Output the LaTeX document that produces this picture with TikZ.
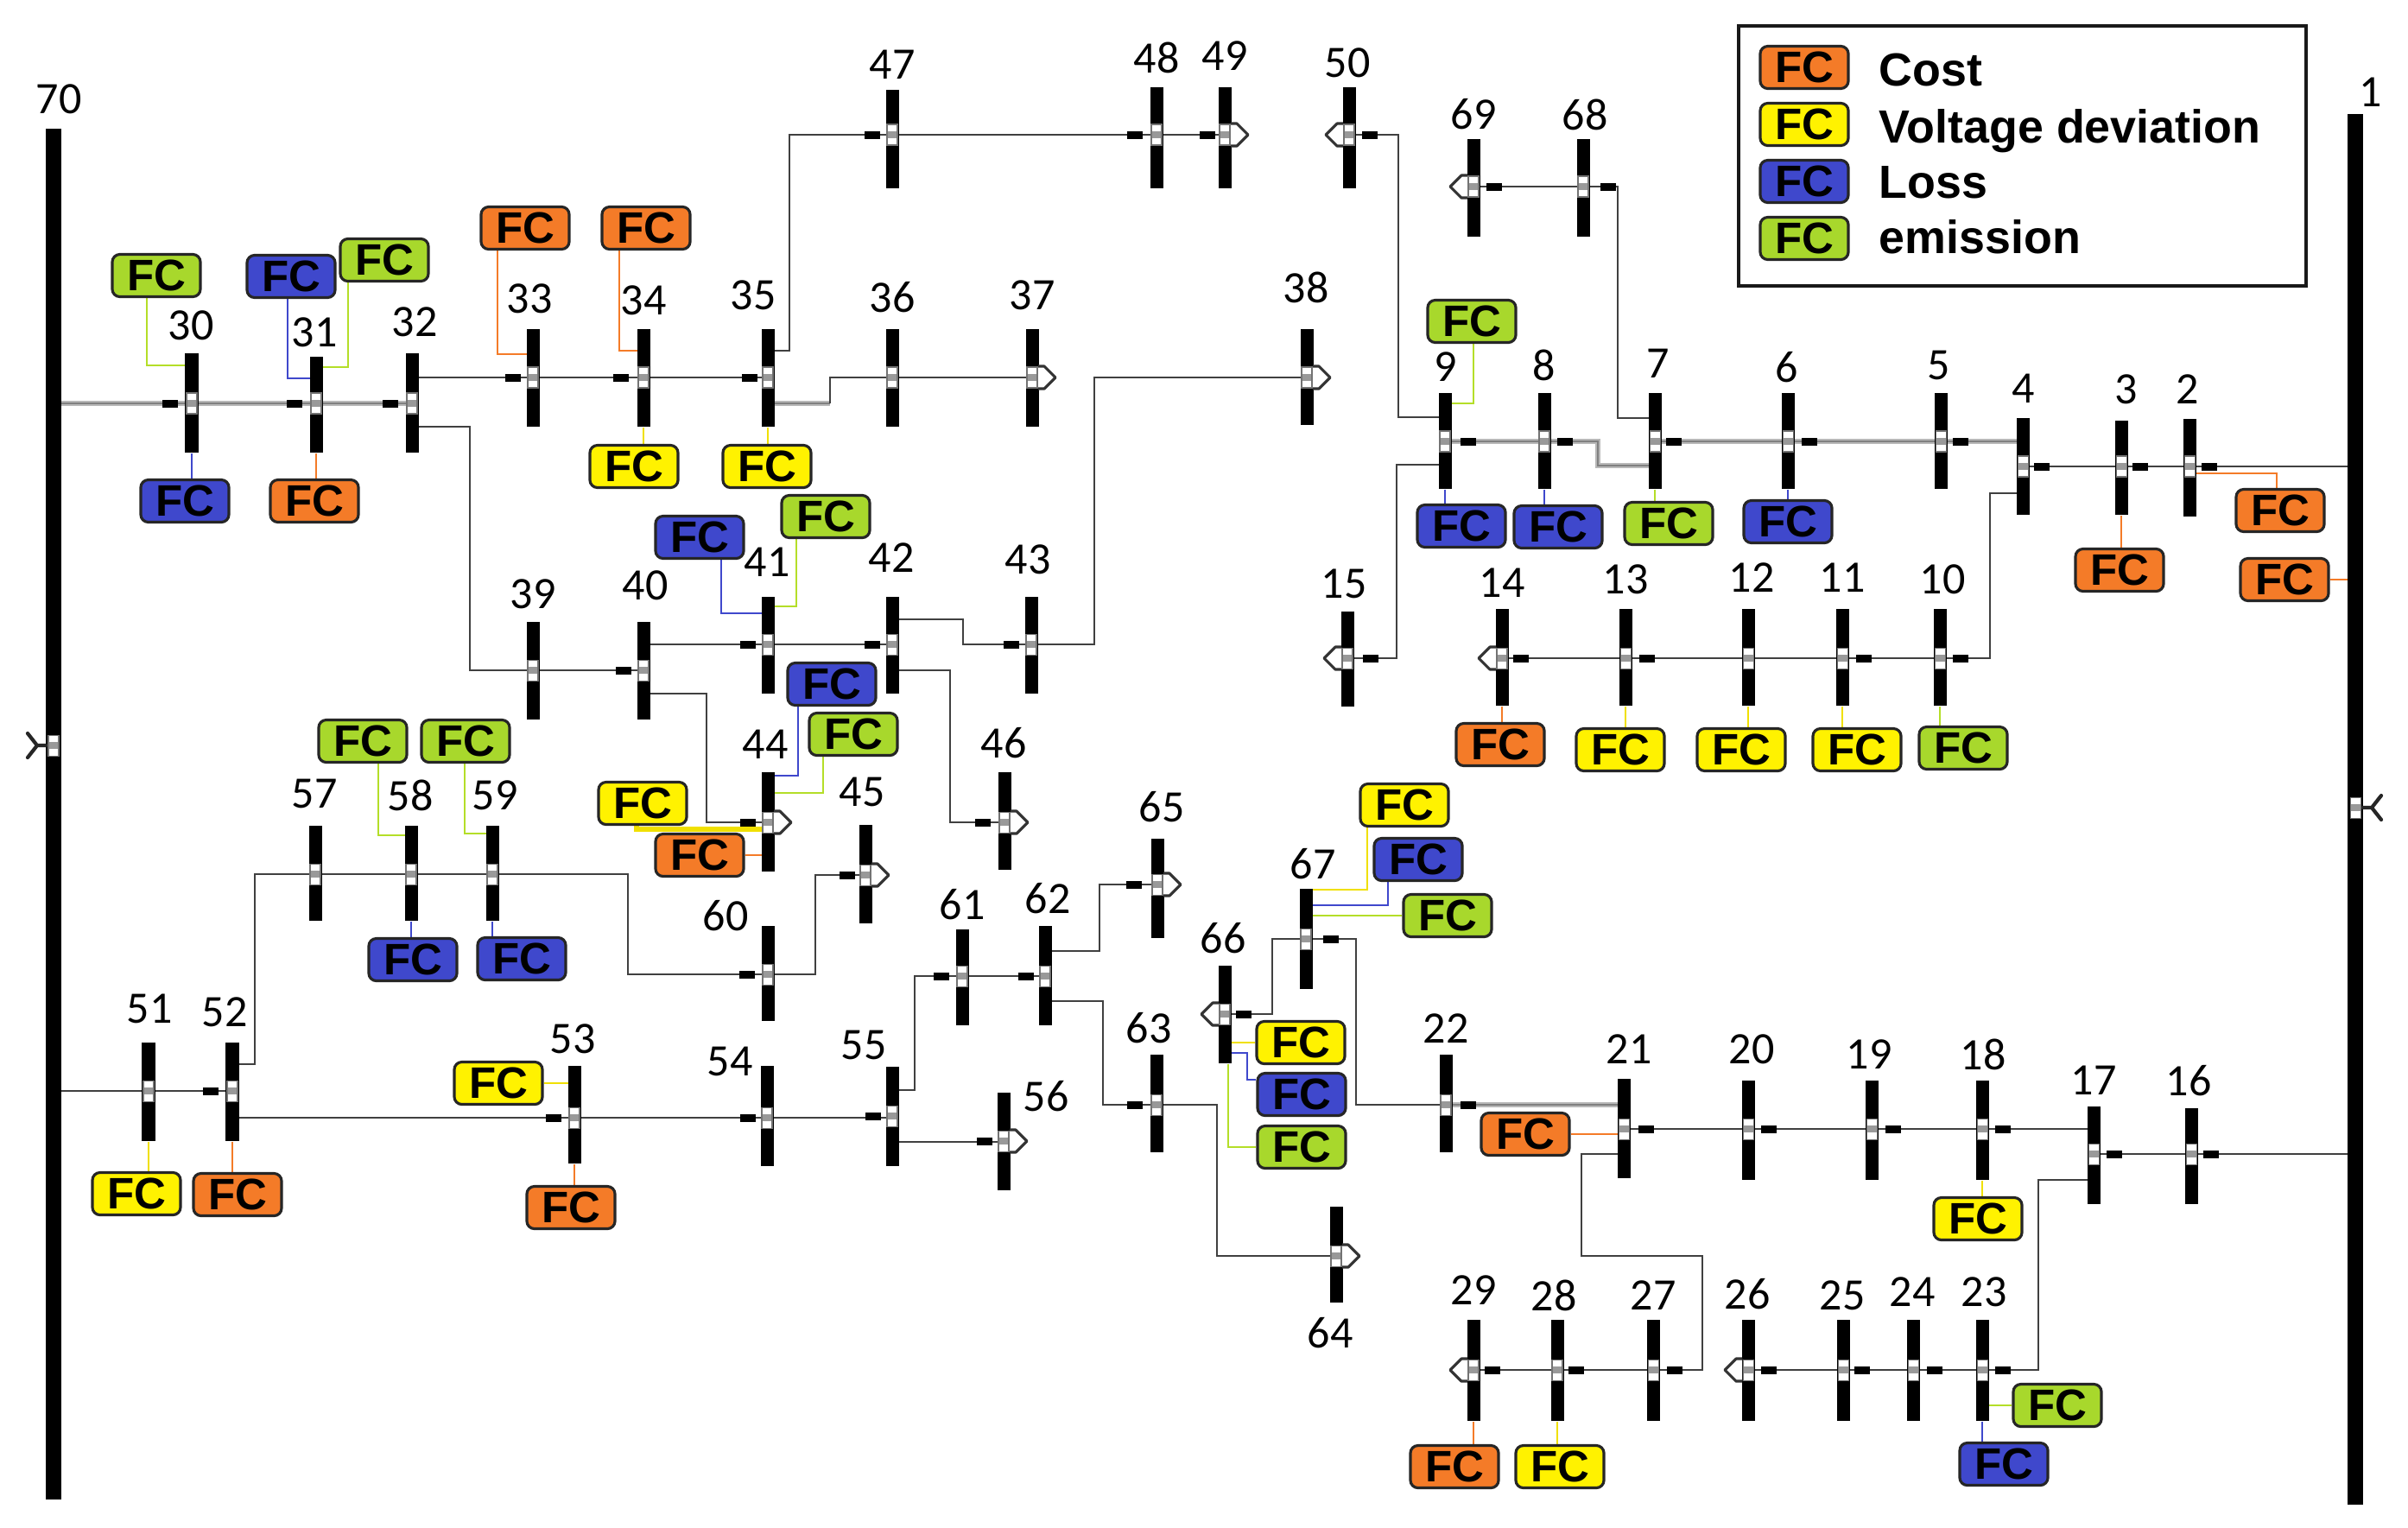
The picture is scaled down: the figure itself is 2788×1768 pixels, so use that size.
\documentclass[tikz,border=0pt]{standalone}
\usepackage{fontspec}
\setmainfont{Carlito}
\newfontfamily\fcfont{Liberation Sans}
\usetikzlibrary{calc}
\pgfdeclarelayer{bg}
\pgfsetlayers{bg,main}
\definecolor{fcO}{HTML}{F47B28}
\definecolor{fcY}{HTML}{FFF200}
\definecolor{fcB}{HTML}{3F48CC}
\definecolor{fcG}{HTML}{A8D82C}
\definecolor{lnG}{HTML}{B4DE28}
\definecolor{lnY}{HTML}{F0E000}
\newcommand{\mkbus}[4]{\node[bus,minimum height={(#4-#3)*0.01cm}] (b#1) at (#2,{(#3+#4)/2}) {};}
\newcommand{\mklab}[3]{\node[lbl] (l#1) at (#2,#3) {#1};}
\tikzset{
 bus/.style={rectangle,fill=black,draw=none,inner sep=0pt,minimum width=0.15cm},
 lbl/.style={inner sep=0pt,font=\fontsize{14.8}{16}\selectfont},
 fc/.style={rectangle,rounded corners=2.5pt,draw=black!85,line width=0.9pt,minimum width=1.02cm,minimum height=0.49cm,inner sep=0pt,font=\fcfont\bfseries\fontsize{14.5}{15}\selectfont},
 fO/.style={fc,fill=fcO}, fY/.style={fc,fill=fcY}, fB/.style={fc,fill=fcB}, fG/.style={fc,fill=fcG},
 legt/.style={inner sep=0pt,anchor=west,text height=11pt,text depth=0pt,font=\fcfont\bfseries\fontsize{15.3}{16}\selectfont},
 wire/.style={draw=black!75,line width=0.8pt},
 feeder/.style={draw=black!50,line width=0.6pt,preaction={draw=black!28,line width=1.9pt}},
 cO/.style={draw=fcO,line width=0.7pt},
 cY/.style={draw=lnY,line width=0.7pt},
 cB/.style={draw=fcB,line width=0.7pt},
 cG/.style={draw=lnG,line width=0.7pt},
 swt/.pic={\fill[white] (-6,-12) rectangle (6,12); \fill[black!40] (-6,-4) rectangle (6,4); \draw[black!55,line width=0.3pt] (-6,-12) rectangle (6,12);},
 brkr/.pic={\fill[black] (-9,-4.5) rectangle (9,4.5);},
 ldR/.pic={\draw[black!80,line width=0.9pt,line join=round,fill=white] (7,-13) -- (14,-13) -- (27,0) -- (14,13) -- (7,13);
   \fill[white] (-6,-12) rectangle (6,12); \fill[black!40] (-6,-4) rectangle (6,4); \draw[black!55,line width=0.3pt] (-6,-12) rectangle (6,12);},
 ldL/.pic={\draw[black!80,line width=0.9pt,line join=round,fill=white] (-7,-13) -- (-14,-13) -- (-27,0) -- (-14,13) -- (-7,13);
   \fill[white] (-6,-12) rectangle (6,12); \fill[black!40] (-6,-4) rectangle (6,4); \draw[black!55,line width=0.3pt] (-6,-12) rectangle (6,12);},
 forkL/.pic={\draw[black!85,line width=1.2pt,line cap=round,line join=round] (-9,0) -- (-19,0) -- (-30,-14) (-19,0) -- (-30,14);},
 forkR/.pic={\draw[black!85,line width=1.2pt,line cap=round,line join=round] (9,0) -- (19,0) -- (30,-14) (19,0) -- (30,14);}
}
\begin{document}
\begin{tikzpicture}[x=0.01cm,y=-0.01cm]
\begin{pgfonlayer}{bg}
\fill[white] (0,0) rectangle (2788,1768);
\end{pgfonlayer}
\useasboundingbox (0,0) rectangle (2788,1768);
% main buses
\node[bus,minimum width=0.18cm,minimum height=15.86cm] (b70) at (62,942) {};
\node[bus,minimum width=0.18cm,minimum height=16.09cm] (b1) at (2727,936.5) {};
% buses
\mkbus{30}{222}{409}{524}
\mkbus{31}{366}{413}{524}
\mkbus{32}{477}{409}{524}
\mkbus{33}{617}{381}{494}
\mkbus{34}{745}{381}{494}
\mkbus{35}{889}{381}{494}
\mkbus{36}{1033}{381}{494}
\mkbus{37}{1195}{381}{494}
\mkbus{38}{1513}{381}{492}
\mkbus{47}{1033}{104}{218}
\mkbus{48}{1339}{101}{218}
\mkbus{49}{1418}{101}{218}
\mkbus{50}{1562}{101}{218}
\mkbus{69}{1706}{161}{274}
\mkbus{68}{1833}{161}{274}
\mkbus{9}{1673}{455}{566}
\mkbus{8}{1788}{455}{566}
\mkbus{7}{1916}{455}{566}
\mkbus{6}{2070}{455}{566}
\mkbus{5}{2247}{455}{566}
\mkbus{4}{2342}{484}{596}
\mkbus{3}{2456}{487}{596}
\mkbus{2}{2535}{485}{598}
\mkbus{15}{1560}{708}{818}
\mkbus{14}{1739}{705}{817}
\mkbus{13}{1882}{705}{817}
\mkbus{12}{2024}{705}{817}
\mkbus{11}{2133}{705}{817}
\mkbus{10}{2246}{705}{817}
\mkbus{39}{617}{720}{833}
\mkbus{40}{745}{720}{833}
\mkbus{41}{889}{691}{803}
\mkbus{42}{1033}{691}{803}
\mkbus{43}{1194}{691}{803}
\mkbus{44}{889}{894}{1009}
\mkbus{45}{1002}{955}{1069}
\mkbus{46}{1163}{894}{1007}
\mkbus{57}{365}{956}{1066}
\mkbus{58}{476}{956}{1066}
\mkbus{59}{570}{956}{1066}
\mkbus{60}{889}{1072}{1182}
\mkbus{51}{172}{1207}{1321}
\mkbus{52}{269}{1207}{1321}
\mkbus{53}{665}{1234}{1347}
\mkbus{54}{888}{1234}{1350}
\mkbus{55}{1033}{1235}{1350}
\mkbus{56}{1162}{1265}{1378}
\mkbus{61}{1114}{1076}{1187}
\mkbus{62}{1210}{1072}{1187}
\mkbus{65}{1340}{971}{1086}
\mkbus{63}{1339}{1221}{1334}
\mkbus{64}{1547}{1397}{1508}
\mkbus{66}{1418}{1118}{1231}
\mkbus{67}{1512}{1029}{1145}
\mkbus{22}{1674}{1221}{1334}
\mkbus{21}{1880}{1249}{1364}
\mkbus{20}{2024}{1251}{1366}
\mkbus{19}{2167}{1251}{1366}
\mkbus{18}{2295}{1251}{1366}
\mkbus{17}{2424}{1281}{1394}
\mkbus{16}{2537}{1283}{1394}
\mkbus{29}{1706}{1528}{1645}
\mkbus{28}{1803}{1528}{1645}
\mkbus{27}{1914}{1528}{1645}
\mkbus{26}{2024}{1528}{1645}
\mkbus{25}{2134}{1528}{1645}
\mkbus{24}{2215}{1528}{1645}
\mkbus{23}{2295}{1528}{1645}
% labels
\mklab{70}{68}{115}
\mklab{1}{2745}{107}
\mklab{30}{221}{377}
\mklab{31}{364}{385}
\mklab{32}{480}{373}
\mklab{33}{613}{346}
\mklab{34}{745}{348}
\mklab{35}{872}{342}
\mklab{36}{1033}{344}
\mklab{37}{1195}{342}
\mklab{38}{1512}{333}
\mklab{47}{1033}{75}
\mklab{48}{1339}{67}
\mklab{49}{1418}{65}
\mklab{50}{1560}{73}
\mklab{69}{1706}{132}
\mklab{68}{1835}{133}
\mklab{9}{1674}{425}
\mklab{8}{1788}{423}
\mklab{7}{1920}{421}
\mklab{6}{2069}{425}
\mklab{5}{2245}{423}
\mklab{4}{2343}{450}
\mklab{3}{2462}{451}
\mklab{2}{2533}{451}
\mklab{15}{1556}{676}
\mklab{14}{1739}{675}
\mklab{13}{1882}{671}
\mklab{12}{2028}{669}
\mklab{11}{2133}{669}
\mklab{10}{2249}{671}
\mklab{39}{617}{688}
\mklab{40}{747}{678}
\mklab{41}{888}{651}
\mklab{42}{1032}{646}
\mklab{43}{1190}{648}
\mklab{44}{886}{862}
\mklab{45}{998}{917}
\mklab{46}{1162}{860}
\mklab{57}{364}{919}
\mklab{58}{475}{921}
\mklab{59}{573}{921}
\mklab{60}{840}{1060}
\mklab{51}{173}{1168}
\mklab{52}{260}{1172}
\mklab{53}{663}{1203}
\mklab{54}{845}{1229}
\mklab{55}{1000}{1210}
\mklab{56}{1211}{1269}
\mklab{61}{1114}{1047}
\mklab{62}{1213}{1040}
\mklab{65}{1345}{934}
\mklab{63}{1330}{1190}
\mklab{64}{1540}{1543}
\mklab{66}{1416}{1086}
\mklab{67}{1520}{1000}
\mklab{22}{1674}{1191}
\mklab{21}{1886}{1215}
\mklab{20}{2028}{1215}
\mklab{19}{2164}{1221}
\mklab{18}{2296}{1221}
\mklab{17}{2424}{1251}
\mklab{16}{2534}{1251}
\mklab{29}{1706}{1494}
\mklab{28}{1799}{1500}
\mklab{27}{1914}{1500}
\mklab{26}{2023}{1498}
\mklab{25}{2133}{1500}
\mklab{24}{2214}{1496}
\mklab{23}{2297}{1496}
% FC boxes
\node[fG] (f30g) at (181,319) {FC};
\node[fB] (f30b) at (214,580) {FC};
\node[fB] (f31b) at (337,320) {FC};
\node[fG] (f31g) at (445,301) {FC};
\node[fO] (f31o) at (364,580) {FC};
\node[fO] (f33o) at (608,264) {FC};
\node[fO] (f34o) at (748,264) {FC};
\node[fY] (f34y) at (734,540) {FC};
\node[fY] (f35y) at (888,540) {FC};
\node[fG] (f9g) at (1704,372) {FC};
\node[fB] (f9b) at (1692,609) {FC};
\node[fB] (f8b) at (1804,610) {FC};
\node[fG] (f7g) at (1932,606) {FC};
\node[fB] (f6b) at (2070,604) {FC};
\node[fO] (f2o) at (2640,591) {FC};
\node[fO] (f1o) at (2645,671) {FC};
\node[fO] (f3o) at (2454,660) {FC};
\node[fO] (f14o) at (1737,862) {FC};
\node[fY] (f13y) at (1876,868) {FC};
\node[fY] (f12y) at (2016,868) {FC};
\node[fY] (f11y) at (2150,868) {FC};
\node[fG] (f10g) at (2273,866) {FC};
\node[fB] (f41b) at (810,622) {FC};
\node[fG] (f41g) at (956,598) {FC};
\node[fB] (f44b) at (963,792) {FC};
\node[fG] (f44g) at (988,850) {FC};
\node[fY] (f44y) at (744,930) {FC};
\node[fO] (f44o) at (810,990) {FC};
\node[fG] (f58g) at (420,858) {FC};
\node[fG] (f59g) at (539,858) {FC};
\node[fB] (f58b) at (478,1111) {FC};
\node[fB] (f59b) at (604,1110) {FC};
\node[fY] (f53y) at (577,1254) {FC};
\node[fO] (f53o) at (661,1398) {FC};
\node[fY] (f51y) at (158,1382) {FC};
\node[fO] (f52o) at (275,1383) {FC};
\node[fY] (f67y) at (1626,932) {FC};
\node[fB] (f67b) at (1642,995) {FC};
\node[fG] (f67g) at (1676,1060) {FC};
\node[fY] (f66y) at (1506,1207) {FC};
\node[fB] (f66b) at (1507,1267) {FC};
\node[fG] (f66g) at (1507,1328) {FC};
\node[fO] (f21o) at (1766,1313) {FC};
\node[fY] (f18y) at (2290,1411) {FC};
\node[fO] (f29o) at (1684,1698) {FC};
\node[fY] (f28y) at (1806,1698) {FC};
\node[fG] (f23g) at (2382,1627) {FC};
\node[fB] (f23b) at (2320,1695) {FC};
% legend
\node[draw=black!90,line width=1.1pt,minimum width=6.57cm,minimum height=3.01cm,inner sep=0pt] (leg) at (2341.5,180.5) {};
\node[fO] (lg1) at (2089,78) {FC};
\node[fY] (lg2) at (2089,144) {FC};
\node[fB] (lg3) at (2089,210) {FC};
\node[fG] (lg4) at (2089,276) {FC};
\node[legt] (lt1) at (2175,80) {Cost};
\node[legt] (lt2) at (2175,146) {Voltage deviation};
\node[legt] (lt3) at (2175,210) {Loss};
\node[legt] (lt4) at (2175,274) {emission};
% lines
\begin{pgfonlayer}{bg}
\draw[feeder] (b70 |- 0,467) -- (b32 |- 0,467);
\coordinate (j35) at (961,467);
\draw[feeder] (b35 |- 0,467) -- (j35);
\draw[wire] (j35) |- (b37 |- 0,437);
\draw[feeder] (b9 |- 0,511) -- (1850,511) -- (1850,539) -- (b7 |- 0,539);
\draw[feeder] (b7 |- 0,511) -- (b4 |- 0,511);
\draw[feeder] (b22 |- 0,1279) -- (b21 |- 0,1279);
\draw[wire] (b32 |- 0,437) -- (b35 |- 0,437);
\draw[wire] (b32 |- 0,494) -| (544,776) -- (b40 |- 0,776);
\draw[wire] (b35 |- 0,406) -| (914,156) -- (b49 |- 0,156);
\draw[wire] (b42 |- 0,717) -| (1115,746) -- (1267,746) |- (b38 |- 0,437);
\draw[wire] (b40 |- 0,746) -- (b42 |- 0,746);
\draw[wire] (b42 |- 0,776) -| (1100,952) -- (b46 |- 0,952);
\draw[wire] (b40 |- 0,803) -| (818,952) -- (b44 |- 0,952);
\draw[wire] (b50 |- 0,156) -| (1619,483) -- (b9 |- 0,483);
\draw[wire] (b9 |- 0,538) -| (1617,762) -- (b15 |- 0,762);
\draw[wire] (b69 |- 0,216) -- (1873,216) |- (b7 |- 0,484);
\draw[wire] (b4 |- 0,540) -- (b1 |- 0,540);
\draw[wire] (b4 |- 0,571) -| (2304,762) -- (b14 |- 0,762);
\draw[wire] (b70 |- 0,1263) -- (b52 |- 0,1263);
\draw[wire] (b52 |- 0,1232) -| (295,1012) -- (727,1012) |- (b60 |- 0,1128) -| (944,1013) -- (b45 |- 0,1013);
\draw[wire] (b52 |- 0,1294) -- (b55 |- 0,1294);
\draw[wire] (b55 |- 0,1262) -| (1059,1130) -- (b62 |- 0,1130);
\draw[wire] (b55 |- 0,1322) -- (b56 |- 0,1322);
\draw[wire] (b62 |- 0,1101) -| (1273,1024) -- (b65 |- 0,1024);
\draw[wire] (b62 |- 0,1159) -| (1277,1279) -- (1409,1279) |- (b64 |- 0,1454);
\draw[wire] (b66 |- 0,1174) -| (1473,1087) -- (1570,1087) |- (b22 |- 0,1279);
\draw[wire] (b21 |- 0,1307) -- (b17 |- 0,1307);
\draw[wire] (b17 |- 0,1336) -- (b1 |- 0,1336);
\draw[wire] (b21 |- 0,1336) -| (1831,1454) -| (1971,1586) -- (b29 |- 0,1586);
\draw[wire] (b17 |- 0,1366) -| (2360,1586) -- (b26 |- 0,1586);
% FC connectors
\draw[cG] ($(f30g.south)+(-11,0)$) |- (b30 |- 0,423);
\draw[cB] (b30) -- (b30 |- f30b.north);
\draw[cB] ($(f31b.south)+(-4,0)$) |- (b31 |- 0,438);
\draw[cG] ($(f31g.south)+(-42,0)$) |- (b31 |- 0,425);
\draw[cO] (b31) -- (b31 |- f31o.north);
\draw[cO] ($(f33o.south)+(-32,0)$) |- (b33 |- 0,410);
\draw[cO] ($(f34o.south)+(-31,0)$) |- (b34 |- 0,406);
\draw[cY] (b34) -- (b34 |- f34y.north);
\draw[cY] (b35) -- (b35 |- f35y.north);
\draw[cG] ($(f9g.south)+(2,0)$) |- (b9 |- 0,467);
\draw[cB] (b9) -- (b9 |- f9b.north);
\draw[cB] (b8) -- (b8 |- f8b.north);
\draw[cG] (b7) -- (b7 |- f7g.north);
\draw[cB] (b6) -- (b6 |- f6b.north);
\draw[cO] (b2 |- 0,548) -| ($(f2o.north)+(-4,0)$);
\draw[cO] (f1o.east) -- (b1 |- f1o.east);
\draw[cO] (b3) -- (b3 |- f3o.north);
\draw[cO] (b14) -- (b14 |- f14o.north);
\draw[cY] (b13) -- (b13 |- f13y.north);
\draw[cY] (b12) -- (b12 |- f12y.north);
\draw[cY] (b11) -- (b11 |- f11y.north);
\draw[cG] (b10) -- (b10 |- f10g.north);
\draw[cB] ($(f41b.south)+(25,0)$) |- (b41 |- 0,710);
\draw[cG] ($(f41g.south)+(-34,0)$) |- (b41 |- 0,702);
\draw[cB] ($(f44b.south)+(-39,0)$) |- (b44 |- 0,898);
\draw[cG] ($(f44g.south)+(-35,0)$) |- (b44 |- 0,918);
\draw[cY,line width=1.6pt] ($(f44y.south)+(-7,0)$) |- (b44 |- 0,960);
\draw[cO] (f44o.east) -- (b44 |- f44o.east);
\draw[cG] ($(f58g.south)+(18,0)$) |- (b58 |- 0,967);
\draw[cG] ($(f59g.south)+(-1,0)$) |- (b59 |- 0,965);
\draw[cB] (b58) -- (b58 |- f58b.north);
\draw[cB] (b59) -- (b59 |- f59b.north);
\draw[cY] (f53y.east) -- (b53 |- f53y.east);
\draw[cO] (b53) -- (b53 |- f53o.north);
\draw[cY] (b51) -- (b51 |- f51y.north);
\draw[cO] (b52) -- (b52 |- f52o.north);
\draw[cY] ($(f67y.south)+(-43,0)$) |- (b67 |- 0,1030);
\draw[cB] ($(f67b.south)+(-35,0)$) |- (b67 |- 0,1048);
\draw[cG] (f67g.west) -- (b67 |- f67g.west);
\draw[cY] (f66y.west) -- (b66 |- f66y.west);
\draw[cB] (b66 |- 0,1219) -| (1444,1250) -- (f66b.west |- 0,1250);
\draw[cG] ($(b66.south)+(4,0)$) |- (f66g.west);
\draw[cO] (f21o.east) -- (b21 |- f21o.east);
\draw[cY] (b18) -- (b18 |- f18y.north);
\draw[cO] (b29) -- (b29 |- f29o.north);
\draw[cY] (b28) -- (b28 |- f28y.north);
\draw[cG] (b23 |- f23g.west) -- (f23g.west);
\draw[cB] (b23) -- (b23 |- f23b.north);
\end{pgfonlayer}
% breaker marks
\foreach \x/\y in {197/467,341/467,452/467,594/437,719/437,868/437,
 1010/156,1314/156,1398/156,1586/156,1730/216,1862/216,
 1700/511,1812/511,1938/511,2095/511,2270/511,2364/540,2478/540,2558/540,
 1587/762,1761/762,1907/762,2158/762,2270/762,
 722/776,866/746,1010/746,1171/746,866/952,1138/952,981/1013,865/1128,
 244/1263,641/1294,866/1294,1011/1292,1090/1130,1188/1130,1313/1024,1314/1279,1140/1321,
 1440/1174,1541/1087,1700/1279,1906/1307,2048/1307,2192/1307,2319/1307,2448/1336,2560/1336,
 1728/1586,1825/1586,1939/1586,2048/1586,2156/1586,2240/1586,2319/1586}
 \pic at (\x,\y) {brkr};
% switches
\foreach \b/\y in {30/467,31/467,32/467,33/437,34/437,35/437,36/437,47/156,48/156,68/216,
 9/511,8/511,7/511,6/511,5/511,4/540,3/540,2/540,13/762,12/762,11/762,10/762,
 39/776,40/776,41/746,42/746,43/746,57/1012,58/1012,59/1012,60/1128,51/1263,52/1263,
 53/1294,54/1294,55/1292,61/1130,62/1130,63/1279,67/1087,22/1279,21/1307,20/1307,
 19/1307,18/1307,17/1336,16/1336,28/1586,27/1586,25/1586,24/1586,23/1586,70/863,1/935}
 \pic at (b\b |- 0,\y) {swt};
% loads
\foreach \b/\y in {49/156,37/437,38/437,44/952,46/952,45/1013,65/1024,56/1321,64/1454}
 \pic at (b\b |- 0,\y) {ldR};
\foreach \b/\y in {50/156,69/216,14/762,15/762,66/1174,29/1586,26/1586}
 \pic at (b\b |- 0,\y) {ldL};
\pic at (b70 |- 0,863) {forkL};
\pic at (b1 |- 0,935) {forkR};
\end{tikzpicture}
\end{document}
